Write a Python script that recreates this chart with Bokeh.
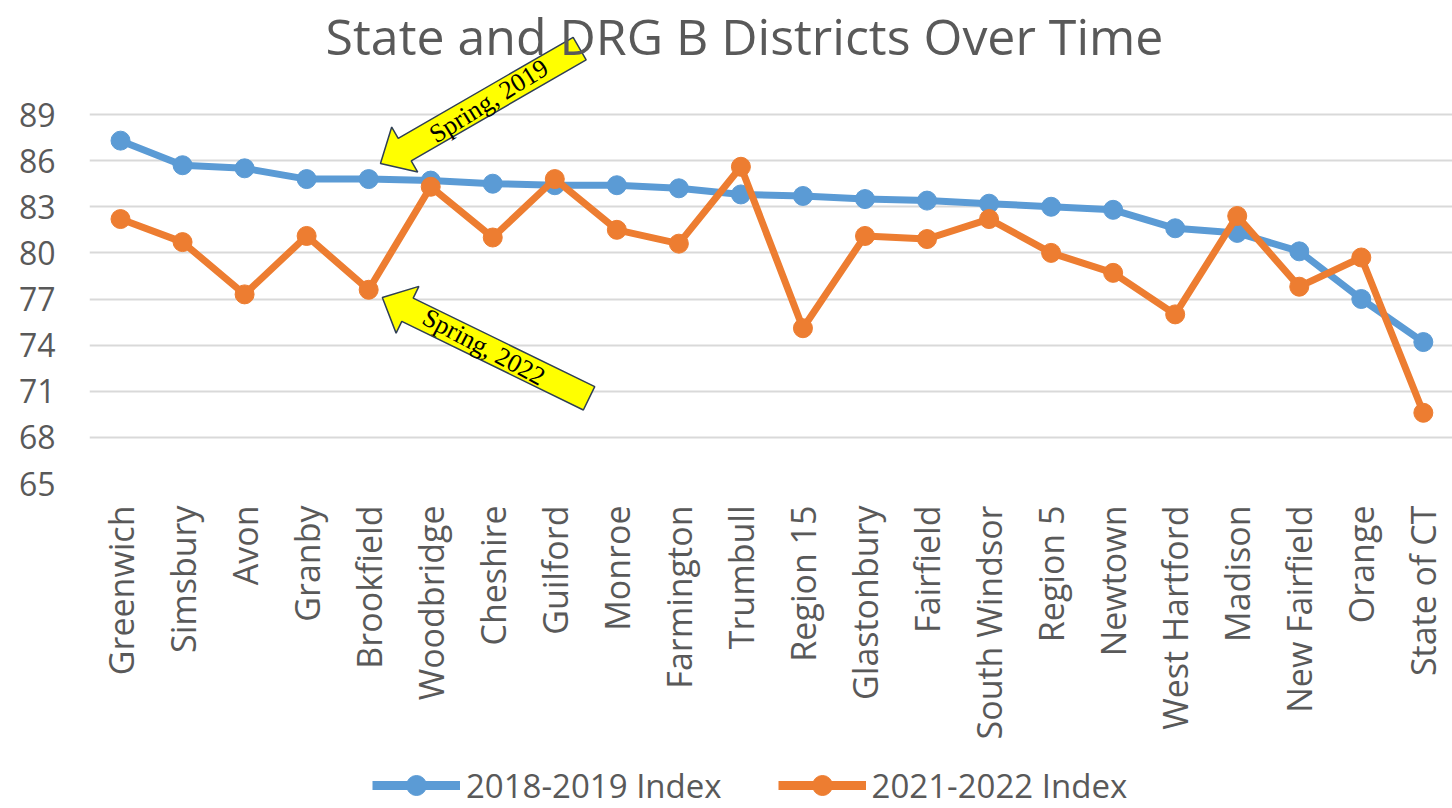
import math
from bokeh.plotting import figure
from bokeh.layouts import column
from bokeh.models import Range1d, FixedTicker, Legend, LegendItem, Label, ColumnDataSource
from bokeh.embed import file_html
from bokeh.resources import INLINE
from bokeh.core.properties import value

# ---------------- data ----------------
districts = ["Greenwich", "Simsbury", "Avon", "Granby", "Brookfield", "Woodbridge",
             "Cheshire", "Guilford", "Monroe", "Farmington", "Trumbull", "Region 15",
             "Glastonbury", "Fairfield", "South Windsor", "Region 5", "Newtown",
             "West Hartford", "Madison", "New Fairfield", "Orange", "State of CT"]
index_2018_2019 = [87.3, 85.7, 85.5, 84.8, 84.8, 84.7, 84.5, 84.4, 84.4, 84.2, 83.8,
                   83.7, 83.5, 83.4, 83.2, 83.0, 82.8, 81.6, 81.3, 80.1, 77.0, 74.2]
index_2021_2022 = [82.2, 80.7, 77.3, 81.1, 77.6, 84.3, 81.0, 84.8, 81.5, 80.6, 85.6,
                   75.1, 81.1, 80.9, 82.2, 80.0, 78.7, 76.0, 82.4, 77.8, 79.7, 69.6]
y_ticks = [65, 68, 71, 74, 77, 80, 83, 86, 89]
series_names = ["2018-2019 Index", "2021-2022 Index"]
title_text = "State and DRG B Districts Over Time"
arrow_labels = ["Spring, 2019", "Spring, 2022"]

# ---------------- style ----------------
BLUE = "#5B9BD5"
ORANGE = "#ED7D31"
GRAY_TXT = "#595959"
GRID = "#D9D9D9"
FONT = "Open Sans"

W = 1452
H_MAIN = 760
H_LEG = 48
FL, FW = 89, 1363          # frame left / width (px)
F_BOTTOM = 483             # frame bottom (px from top)
X0, X1 = -0.5, 21.47
SX = FW / (X1 - X0)
SY = 369 / 24.0            # px per index point (65 -> 89 spans 369 px)
Y0 = 65
Y1 = 89 + 114 / SY         # extend range to top of canvas (room for title/arrow)

p = figure(width=W, height=H_MAIN, x_range=Range1d(X0, X1), y_range=Range1d(Y0, Y1),
           output_backend="svg", toolbar_location=None,
           min_border_left=FL, min_border_right=0, min_border_top=0,
           min_border_bottom=H_MAIN - F_BOTTOM)
p.outline_line_color = None
p.background_fill_color = "white"
p.border_fill_color = "white"

positions = list(range(len(districts)))
src = ColumnDataSource(dict(x=positions, name=districts,
                            a=index_2018_2019, b=index_2021_2022))

# axes
p.xaxis.ticker = FixedTicker(ticks=positions)
p.xaxis.major_label_overrides = {i: n for i, n in zip(positions, districts)}
p.xaxis.major_label_orientation = math.pi / 2
p.xaxis.major_label_standoff = 22
p.xaxis.major_label_text_font_size = "34px"
p.yaxis.ticker = FixedTicker(ticks=y_ticks)
p.yaxis.major_label_standoff = 34
p.yaxis.major_label_text_font_size = "32px"
for ax in (p.xaxis, p.yaxis):
    ax.axis_line_color = None
    ax.major_tick_line_color = None
    ax.minor_tick_line_color = None
    ax.major_tick_out = 0
    ax.major_tick_in = 0
    ax.major_label_text_font = FONT
    ax.major_label_text_color = GRAY_TXT
p.xgrid.visible = False
p.ygrid.ticker = FixedTicker(ticks=y_ticks)
p.ygrid.grid_line_color = GRID
p.ygrid.grid_line_width = 2

# series
l1 = p.line("x", "a", source=src, line_color=BLUE, line_width=7)
c1 = p.scatter("x", "a", source=src, size=19, fill_color=BLUE, line_color=BLUE)
l2 = p.line("x", "b", source=src, line_color=ORANGE, line_width=7)
c2 = p.scatter("x", "b", source=src, size=19, fill_color=ORANGE, line_color=ORANGE)

# arrows (annotations)
def arrow_poly(tx, ty, ang_deg, length=230, head_len=28, head_half=26, shaft_half=13):
    a = math.radians(ang_deg)
    ux, uy = math.cos(a), math.sin(a)
    vx, vy = -uy, ux
    pts = [(0, 0), (head_len, head_half), (head_len, shaft_half), (length, shaft_half),
           (length, -shaft_half), (head_len, -shaft_half), (head_len, -head_half)]
    xs = [tx + (u * ux + v * vx) / SX for u, v in pts]
    ys = [ty + (u * uy + v * vy) / SY for u, v in pts]
    return xs, ys

arrow_tips = [(4.19, 85.81), (4.22, 77.1)]
arrow_angles = [30, -26]
text_angles = [32, -28]
text_dist = [125, 113]
axs, ays, txs, tys = [], [], [], []
for (tx, ty), ang, d in zip(arrow_tips, arrow_angles, text_dist):
    xs, ys = arrow_poly(tx, ty, ang)
    axs.append(xs)
    ays.append(ys)
    a = math.radians(ang)
    txs.append(tx + d * math.cos(a) / SX)
    tys.append(ty + d * math.sin(a) / SY)
p.patches(axs, ays, fill_color="#FFFF00", line_color="#2F3F55", line_width=1.5)
p.text(x=txs, y=tys, text=arrow_labels, angle=[math.radians(t) for t in text_angles],
       text_font=value("Liberation Serif"), text_font_size="26px", text_color="black",
       text_align="center", text_baseline="middle")

# title (inside the extended frame, screen units from frame bottom-left)
title = Label(x=744 - FL, y=448, x_units="screen", y_units="screen",
              text=title_text, text_font=FONT, text_font_size="50px",
              text_color=GRAY_TXT, text_align="center", text_baseline="alphabetic")
p.add_layout(title)

# ---------------- legend strip ----------------
# same series drawn in a strip whose y-range excludes them: only the legend shows
p2 = figure(width=W, height=H_LEG, x_range=Range1d(X0, X1), y_range=Range1d(0, 1),
            x_axis_type=None, y_axis_type=None, output_backend="svg",
            toolbar_location=None, min_border=0)
p2.outline_line_color = None
p2.grid.visible = False
lg1 = p2.line("x", "a", source=src, line_color=BLUE, line_width=9)
lc1 = p2.scatter("x", "a", source=src, size=20, fill_color=BLUE, line_color=BLUE)
lg2 = p2.line("x", "b", source=src, line_color=ORANGE, line_width=9)
lc2 = p2.scatter("x", "b", source=src, size=20, fill_color=ORANGE, line_color=ORANGE)
legend = Legend(items=[LegendItem(label=series_names[0], renderers=[lg1, lc1]),
                       LegendItem(label=series_names[1], renderers=[lg2, lc2])],
                orientation="horizontal", location=(372 - FL, -2),
                glyph_width=88, glyph_height=50, label_standoff=6, spacing=56,
                label_text_font=FONT, label_text_font_size="33px",
                label_text_color=GRAY_TXT, border_line_color=None,
                background_fill_alpha=0, padding=0, margin=0)
p2.add_layout(legend)

layout = column(p, p2, spacing=0)
open("out.html", "w").write(file_html(layout, INLINE))
